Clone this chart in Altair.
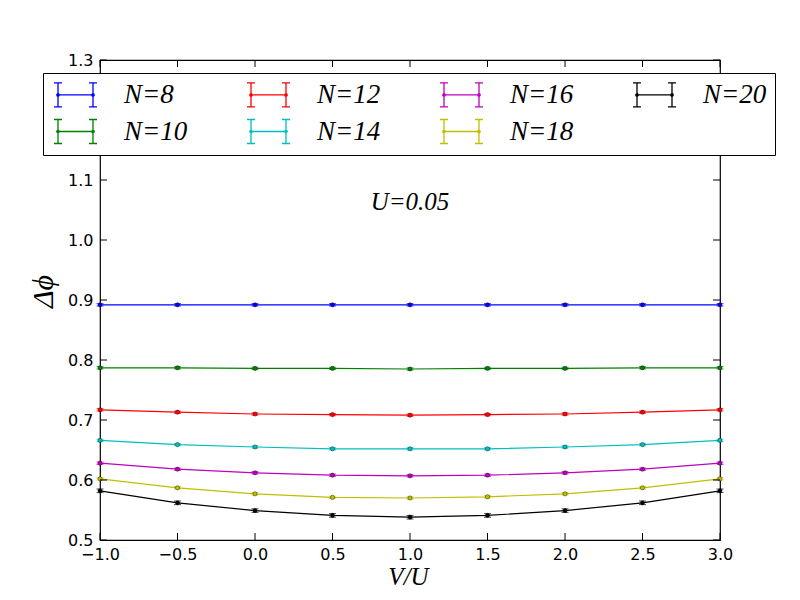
import altair as alt
import pandas as pd

x_vals = [-1.0, -0.5, 0.0, 0.5, 1.0, 1.5, 2.0, 2.5, 3.0]
series_names = ["N=8", "N=10", "N=12", "N=14", "N=16", "N=18", "N=20"]
n8 = [0.892, 0.892, 0.892, 0.892, 0.892, 0.892, 0.892, 0.892, 0.892]
n10 = [0.787, 0.787, 0.786, 0.786, 0.785, 0.786, 0.786, 0.787, 0.787]
n12 = [0.717, 0.713, 0.710, 0.709, 0.708, 0.709, 0.710, 0.713, 0.717]
n14 = [0.666, 0.659, 0.655, 0.652, 0.652, 0.652, 0.655, 0.659, 0.666]
n16 = [0.628, 0.618, 0.612, 0.608, 0.607, 0.608, 0.612, 0.618, 0.628]
n18 = [0.602, 0.587, 0.577, 0.571, 0.570, 0.572, 0.577, 0.587, 0.602]
n20 = [0.582, 0.562, 0.549, 0.541, 0.538, 0.541, 0.549, 0.562, 0.582]
series_values = [n8, n10, n12, n14, n16, n18, n20]
series_errors = [0.002, 0.002, 0.002, 0.002, 0.002, 0.002, 0.003]
series_colors = ["#0000ff", "#008000", "#ff0000", "#00bfbf", "#bf00bf", "#bfbf00", "#000000"]

x_ticks = [-1.0, -0.5, 0.0, 0.5, 1.0, 1.5, 2.0, 2.5, 3.0]
y_ticks = [0.5, 0.6, 0.7, 0.8, 0.9, 1.0, 1.1, 1.2, 1.3]
annotation = {"text": ["U=0.05"], "x": [1.0], "y": [1.05]}

rows = []
for name, vals, err in zip(series_names, series_values, series_errors):
    for xv, yv in zip(x_vals, vals):
        rows.append({"series": name, "x": xv, "y": yv, "lo": yv - err, "hi": yv + err})
df = pd.DataFrame(rows)

# legend order column-wise like the original
legend_order = ["N=8", "N=12", "N=16", "N=20", "N=10", "N=14", "N=18"]
color_map = dict(zip(series_names, series_colors))
color_scale = alt.Scale(domain=legend_order, range=[color_map[n] for n in legend_order])

xs = alt.Scale(domain=[-1, 3], nice=False, zero=False)
ys = alt.Scale(domain=[0.5, 1.3], nice=False, zero=False)

sym_path = (
    "M-1.75,-1.2L-1.75,1.2M-2.15,-1.2L-1.35,-1.2M-2.15,1.2L-1.35,1.2"
    "M1.75,-1.2L1.75,1.2M1.35,-1.2L2.15,-1.2M1.35,1.2L2.15,1.2"
    "M-1.75,0L1.75,0"
    "M-1.63,0A0.12,0.12 0 1,1 -1.87,0A0.12,0.12 0 1,1 -1.63,0"
    "M1.87,0A0.12,0.12 0 1,1 1.63,0A0.12,0.12 0 1,1 1.87,0"
)

legend = alt.Legend(
    title=None,
    orient="none",
    legendX=-57,
    legendY=13,
    columns=4,
    direction="horizontal",
    symbolType=sym_path,
    symbolSize=400,
    symbolStrokeWidth=1.3,
    symbolOffset=11,
    labelFont="Liberation Serif",
    labelFontStyle="italic",
    labelFontSize=27,
    labelColor="black",
    labelOffset=35,
    columnPadding=56,
    rowPadding=6,
    padding=8,
    strokeColor="black",
    fillColor="white",
)

xaxis = alt.Axis(
    values=x_ticks, format=".1f", tickSize=0, labelPadding=6, grid=False, domain=False,
    labelFlush=False, labelFont="DejaVu Sans", labelFontSize=16, labelColor="black",
    title="V/U", titleFont="Liberation Serif", titleFontStyle="italic", titleFontWeight="normal",
    titleFontSize=25, titleColor="black", titleBaseline="alphabetic", titleY=44, titleX=308,
)
yaxis = alt.Axis(
    values=y_ticks, format=".1f", tickSize=0, labelPadding=7, grid=False, domain=False,
    labelFlush=False, labelFont="DejaVu Sans", labelFontSize=16, labelColor="black",
    title="Δϕ", titleFont="Liberation Serif", titleFontStyle="italic", titleFontWeight="normal",
    titleFontSize=30, titleColor="black", titleBaseline="alphabetic", titleX=-48, titleY=231,
    titleAngle=270,
)

base = alt.Chart(df)
lines = base.mark_line(strokeWidth=1.2).encode(
    x=alt.X("x:Q", scale=xs, axis=xaxis),
    y=alt.Y("y:Q", scale=ys, axis=yaxis),
    color=alt.Color("series:N", scale=color_scale, legend=legend),
)
points = base.mark_point(filled=True, size=18, stroke="black", strokeWidth=0.4, opacity=1).encode(
    x=alt.X("x:Q", scale=xs), y=alt.Y("y:Q", scale=ys),
    fill=alt.Fill("series:N", scale=color_scale, legend=None),
)
err_rules = base.mark_rule(strokeWidth=1).encode(
    x=alt.X("x:Q", scale=xs), y=alt.Y("lo:Q", scale=ys), y2="hi:Q",
    color=alt.Color("series:N", scale=color_scale, legend=None),
)
caps_lo = base.mark_tick(orient="horizontal", size=7, thickness=1).encode(
    x=alt.X("x:Q", scale=xs), y=alt.Y("lo:Q", scale=ys),
    color=alt.Color("series:N", scale=color_scale, legend=None),
)
caps_hi = base.mark_tick(orient="horizontal", size=7, thickness=1).encode(
    x=alt.X("x:Q", scale=xs), y=alt.Y("hi:Q", scale=ys),
    color=alt.Color("series:N", scale=color_scale, legend=None),
)

xt = alt.Chart(pd.DataFrame({"t": x_ticks}))
yt = alt.Chart(pd.DataFrame({"t": y_ticks}))
tick_bottom = xt.mark_rule(color="black", strokeWidth=1).encode(
    x=alt.X("t:Q", scale=xs), y=alt.value(480), y2=alt.value(473))
tick_top = xt.mark_rule(color="black", strokeWidth=1).encode(
    x=alt.X("t:Q", scale=xs), y=alt.value(0), y2=alt.value(7))
tick_left = yt.mark_rule(color="black", strokeWidth=1).encode(
    y=alt.Y("t:Q", scale=ys), x=alt.value(0), x2=alt.value(7))
tick_right = yt.mark_rule(color="black", strokeWidth=1).encode(
    y=alt.Y("t:Q", scale=ys), x=alt.value(620), x2=alt.value(613))

label = alt.Chart(pd.DataFrame(annotation)).mark_text(
    font="Liberation Serif", fontStyle="italic", fontSize=25, color="black", baseline="alphabetic"
).encode(x=alt.X("x:Q", scale=xs), y=alt.Y("y:Q", scale=ys), text="text:N")

chart = alt.layer(
    lines, err_rules, caps_lo, caps_hi, points,
    tick_bottom, tick_top, tick_left, tick_right, label,
).properties(
    width=620, height=480,
    autosize=alt.AutoSizeParams(type="none"),
    padding={"left": 92, "top": 52, "right": 70, "bottom": 52},
    background="white",
).configure_view(stroke="black", strokeWidth=1.2)

chart.save("out.html", embed_options={"renderer": "svg", "actions": False})
